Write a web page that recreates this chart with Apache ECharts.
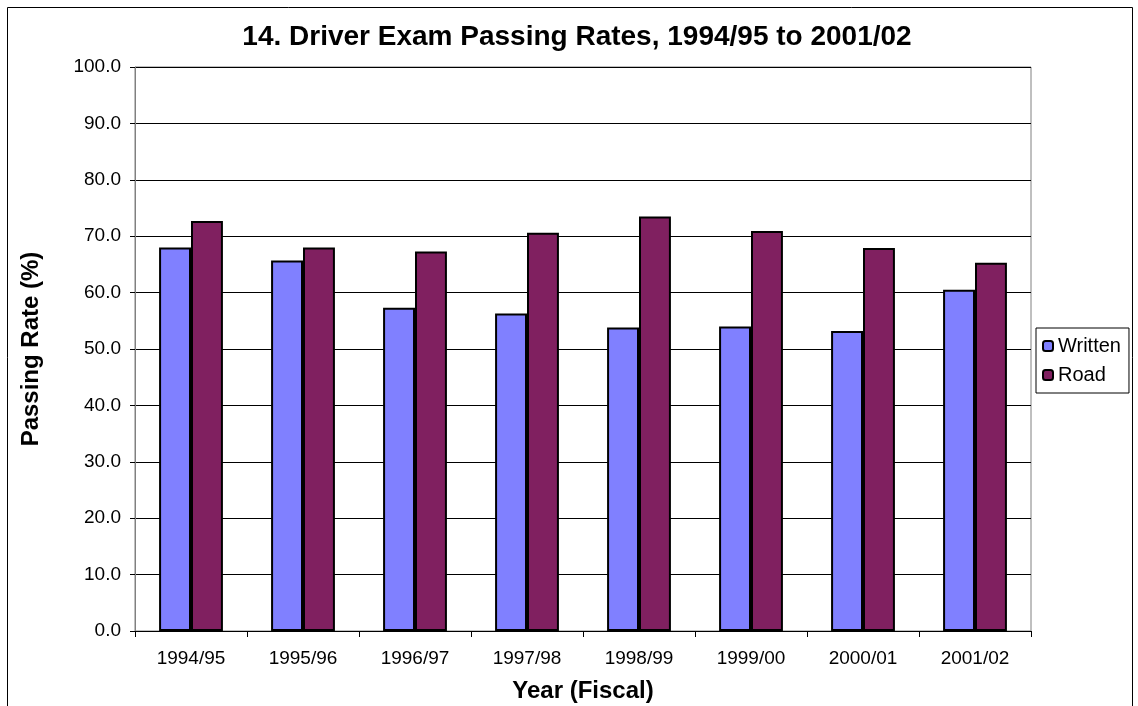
<!DOCTYPE html>
<html>
    <head>
        <meta charset="utf-8">
        <title>Driver Exam Passing Rates</title>
        <script src="https://cdn.jsdelivr.net/npm/echarts@6/dist/echarts.min.js"></script>
        <style type="text/css">
            *{margin: 0}
            body{background: #fff}
        </style>
    </head>
    <body>
        <div id="main" style="width: 1138px;height:706px;"></div>
        <script type="text/javascript">
        var categories = ['1994/95', '1995/96', '1996/97', '1997/98', '1998/99', '1999/00', '2000/01', '2001/02'];
        var written = [68.0, 65.7, 57.3, 56.3, 53.8, 54.0, 53.2, 60.5];
        var road = [72.7, 68.0, 67.3, 70.6, 73.5, 70.9, 67.9, 65.3];

        var myChart = echarts.init(document.getElementById('main'));
        var font = 'Arial, "Liberation Sans", sans-serif';
        myChart.setOption({
            animation: false,
            textStyle: {fontFamily: font},
            title: {
                text: '14. Driver Exam Passing Rates, 1994/95 to 2001/02',
                left: 572,
                textAlign: 'center',
                top: 18,
                textStyle: {fontSize: 28, fontWeight: 'bold', color: '#000', fontFamily: font}
            },
            graphic: [{
                type: 'rect',
                shape: {x: 7.5, y: 7.5, width: 1125, height: 720},
                style: {fill: 'none', stroke: '#000', lineWidth: 1}
            }],
            legend: {
                data: ['Written', 'Road'],
                orient: 'vertical',
                left: 1036,
                top: 328,
                itemWidth: 10,
                itemHeight: 10,
                itemGap: 9,
                padding: [8, 8, 8, 6],
                borderColor: '#000',
                borderWidth: 1,
                textStyle: {fontSize: 20, color: '#000', fontFamily: font}
            },
            grid: {
                left: 135,
                top: 67,
                right: 107,
                bottom: 75,
                outerBoundsMode: 'none',
                show: true,
                borderColor: '#808080',
                borderWidth: 1
            },
            xAxis: {
                type: 'category',
                data: categories,
                name: 'Year (Fiscal)',
                nameLocation: 'middle',
                nameGap: 48,
                nameTextStyle: {fontSize: 24, fontWeight: 'bold', color: '#000', fontFamily: font},
                axisLine: {lineStyle: {color: '#000'}},
                axisTick: {show: true, length: 6, lineStyle: {color: '#000'}},
                axisLabel: {fontSize: 19, color: '#000', margin: 18}
            },
            yAxis: {
                type: 'value',
                min: 0,
                max: 100,
                interval: 10,
                name: 'Passing Rate (%)',
                nameLocation: 'middle',
                nameGap: 92,
                nameTextStyle: {fontSize: 24, fontWeight: 'bold', color: '#000', fontFamily: font},
                axisLine: {show: true, lineStyle: {color: '#808080'}},
                axisTick: {show: true, length: 5, lineStyle: {color: '#000'}},
                axisLabel: {fontSize: 19, color: '#000', margin: 14, formatter: function (v) { return v.toFixed(1); }},
                splitLine: {lineStyle: {color: '#000', width: 1}}
            },
            series: [{
                name: 'Written',
                type: 'bar',
                data: written,
                barGap: '0%',
                barCategoryGap: '43%',
                itemStyle: {color: '#8080FF', borderColor: '#000', borderWidth: 2}
            }, {
                name: 'Road',
                type: 'bar',
                data: road,
                itemStyle: {color: '#802060', borderColor: '#000', borderWidth: 2}
            }]
        });
        </script>
    </body>
</html>
